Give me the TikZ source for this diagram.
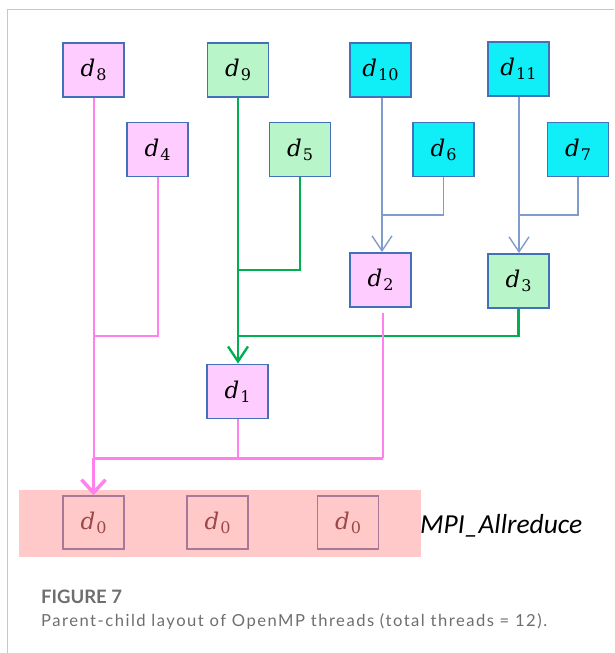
\documentclass[tikz,border=0pt]{standalone}
\usepackage{fontspec}
\setmainfont{Lato}
\newfontfamily\labelfont{Carlito}
\newfontfamily\captionfont[LetterSpace=9]{Lato}
\newfontfamily\threadfont{DejaVu Serif}
\usetikzlibrary{arrows.meta}

\definecolor{framegray}{HTML}{C8C8C8}
\definecolor{pinkline}{HTML}{FF80EE}
\definecolor{boxpink}{HTML}{FFCCFF}
\definecolor{boxgreen}{HTML}{B8F5C8}
\definecolor{boxcyan}{HTML}{10EEF8}
\definecolor{boxblue}{HTML}{4470B8}
\definecolor{greenline}{HTML}{00B050}
\definecolor{blueline}{HTML}{7F9CCC}
\definecolor{bandred}{HTML}{FFC9C9}
\definecolor{rootborder}{HTML}{A87898}
\definecolor{roottext}{HTML}{9A4848}
\definecolor{captiongray}{HTML}{6E6E6E}

% thread label: italic d with an upright subscript index
\newcommand{\thr}[1]{{\threadfont\fontsize{23}{26}\selectfont\itshape d}\kern1pt\raisebox{-4pt}{\threadfont\fontsize{16}{17}\selectfont #1}}

\tikzset{
  thread/.style={draw=boxblue, line width=1.8pt, minimum width=61pt,
    minimum height=54pt, inner sep=0pt},
  pinkbox/.style={thread, fill=boxpink},
  greenbox/.style={thread, fill=boxgreen},
  cyanbox/.style={thread, fill=boxcyan},
  rootbox/.style={draw=rootborder, line width=1.4pt, minimum width=61pt,
    minimum height=53pt, inner sep=0pt, text=roottext},
  pinkwire/.style={draw=pinkline, line width=2pt},
  pinkbus/.style={draw=pinkline, line width=3pt},
  greenwire/.style={draw=greenline, line width=2.4pt},
  bluewire/.style={draw=blueline, line width=1.4pt},
  barb/.style={-{Straight Barb[length=15pt,width=20pt]}},
}

\begin{document}
\begin{tikzpicture}[x=1pt,y=-1pt]
\useasboundingbox (0,0) rectangle (614,653);

% open frame
\draw[framegray, line width=1pt] (614,9.5) -- (7.3,9.5) -- (7.3,653);

% reduction band
\fill[bandred] (19,490) rectangle (421,557);

% thread boxes
\node[pinkbox]  (d8)  at (93.5,70)   {\thr{8}};
\node[greenbox] (d9)  at (238,70)    {\thr{9}};
\node[cyanbox]  (d10) at (380.5,70)  {\thr{10}};
\node[cyanbox]  (d11) at (518.5,69)  {\thr{11}};
\node[pinkbox]  (d4)  at (157.5,149.5) {\thr{4}};
\node[greenbox] (d5)  at (300,149.5) {\thr{5}};
\node[cyanbox]  (d6)  at (443.5,149.5) {\thr{6}};
\node[cyanbox]  (d7)  at (578,149.5) {\thr{7}};
\node[pinkbox]  (d2)  at (380.5,280) {\thr{2}};
\node[greenbox] (d3)  at (518.5,281) {\thr{3}};
\node[pinkbox]  (d1)  at (237.5,391.5) {\thr{1}};

\node[rootbox] (d0a) at (93.5,522.5) {\thr{0}};
\node[rootbox] (d0b) at (217.5,522.5) {\thr{0}};
\node[rootbox] (d0c) at (348,522.5) {\thr{0}};

\node[anchor=west, inner sep=0pt, font=\labelfont\itshape\fontsize{27.5}{31}\selectfont]
  (mpi) at (420,526) {MPI\_Allreduce};

% junction points
\coordinate (j10) at (382,215);
\coordinate (j11) at (519,215);
\coordinate (g5) at (238,270);
\coordinate (g3) at (238,336);
\coordinate (p4) at (93.5,336);
\coordinate (pb) at (93.5,458);
\coordinate (pe) at (383,458);

% blue links into d2 and d3
\draw[bluewire, barb] (d10.south -| j10) -- (d2.north -| j10);
\draw[bluewire] (d6.south) |- (j10);
\draw[bluewire, barb] (d11.south -| j11) -- (d3.north -| j11);
\draw[bluewire] (d7.south) |- (j11);

% green links into d1
\draw[greenwire, barb] (d9.south) -- (d1.north -| d9.south);
\draw[greenwire] (d5.south) |- (g5);
\draw[greenwire] (d3.south) |- (g3);

% pink links into d0
\draw[pinkwire] (d8.south) -- (pb);
\draw[pinkwire] (d4.south) |- (p4);
\draw[pinkwire] (d1.south) -- (d1.south |- pb);
\draw[pinkwire] ([xshift=2.5pt,yshift=-5pt]d2.south) -- (pe);
\draw[pinkbus] (pb) -- (pe);
\draw[pinkline, line width=3.5pt, -{Straight Barb[length=13pt,width=24pt]}] (pb) -- (d0a.north);

% caption
\node[anchor=base west, inner sep=0pt, text=captiongray,
  font=\bfseries\fontsize{18.5}{22}\selectfont] (fig) at (41,603) {FIGURE 7};
\node[anchor=base west, inner sep=0pt, text=captiongray,
  font=\captionfont\fontsize{16.6}{20}\selectfont] (cap) at (41,626)
  {Parent-child layout of OpenMP threads (total threads = 12).};
\end{tikzpicture}
\end{document}
